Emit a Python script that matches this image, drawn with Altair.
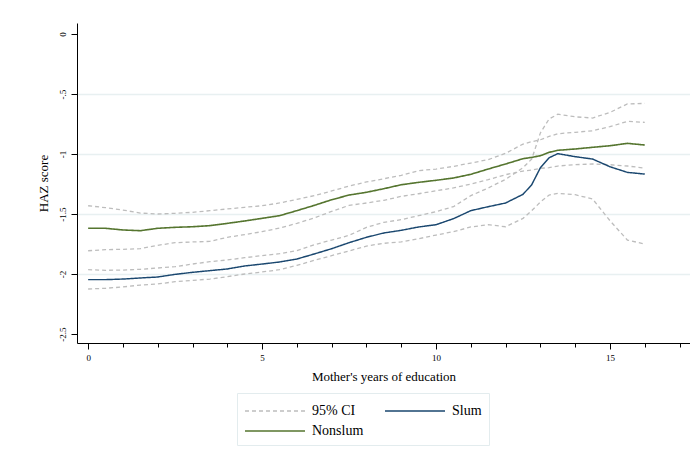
import altair as alt
import pandas as pd

# ---- data ----
years = [0, 0.5, 1, 1.5, 2, 2.5, 3, 3.5, 4, 4.5, 5, 5.5, 6, 6.5, 7, 7.5, 8, 8.5,
         9, 9.5, 10, 10.5, 11, 11.5, 12, 12.5, 12.75, 13, 13.25, 13.5, 14, 14.5,
         15, 15.5, 16]

nonslum = [-1.619, -1.619, -1.633, -1.639, -1.619, -1.611, -1.606, -1.597, -1.578,
           -1.558, -1.536, -1.514, -1.472, -1.428, -1.381, -1.342, -1.319, -1.289,
           -1.256, -1.236, -1.219, -1.200, -1.169, -1.125, -1.083, -1.039, -1.028,
           -1.014, -0.986, -0.969, -0.958, -0.944, -0.931, -0.911, -0.925]
nonslum_hi = [-1.431, -1.447, -1.467, -1.492, -1.500, -1.494, -1.486, -1.472, -1.458,
              -1.444, -1.431, -1.408, -1.378, -1.347, -1.308, -1.267, -1.233, -1.206,
              -1.178, -1.139, -1.125, -1.103, -1.075, -1.047, -0.994, -0.917, -0.897,
              -0.881, -0.853, -0.831, -0.819, -0.806, -0.772, -0.728, -0.736]
nonslum_lo = [-1.806, -1.797, -1.794, -1.789, -1.761, -1.739, -1.733, -1.728, -1.694,
              -1.672, -1.647, -1.617, -1.578, -1.533, -1.478, -1.428, -1.408, -1.386,
              -1.353, -1.331, -1.306, -1.283, -1.250, -1.214, -1.172, -1.142, -1.133,
              -1.119, -1.114, -1.100, -1.089, -1.083, -1.089, -1.100, -1.117]

slum = [-2.047, -2.047, -2.042, -2.033, -2.025, -2.003, -1.986, -1.972, -1.958,
        -1.933, -1.917, -1.900, -1.875, -1.833, -1.789, -1.739, -1.694, -1.658,
        -1.636, -1.608, -1.589, -1.539, -1.472, -1.439, -1.408, -1.336, -1.256,
        -1.114, -1.031, -0.997, -1.022, -1.042, -1.106, -1.153, -1.167]
slum_hi = [-1.964, -1.969, -1.967, -1.961, -1.950, -1.939, -1.917, -1.897, -1.883,
           -1.864, -1.847, -1.831, -1.806, -1.756, -1.717, -1.678, -1.611, -1.569,
           -1.547, -1.514, -1.480, -1.439, -1.347, -1.283, -1.211, -1.114, -1.042,
           -0.824, -0.708, -0.668, -0.690, -0.700, -0.653, -0.583, -0.578]
slum_lo = [-2.125, -2.119, -2.108, -2.092, -2.083, -2.064, -2.053, -2.042, -2.022,
           -2.000, -1.983, -1.964, -1.928, -1.886, -1.847, -1.808, -1.767, -1.744,
           -1.733, -1.706, -1.675, -1.647, -1.608, -1.589, -1.606, -1.536, -1.472,
           -1.400, -1.342, -1.328, -1.339, -1.375, -1.556, -1.717, -1.750]

legend_labels = ["95% CI", "Slum", "Nonslum"]
y_ticks = [0, -0.5, -1, -1.5, -2, -2.5]
x_ticks = list(range(0, 18))

# ---- long table ----
series = [
    ("slum_hi", "95% CI", slum_hi),
    ("slum_lo", "95% CI", slum_lo),
    ("nonslum_hi", "95% CI", nonslum_hi),
    ("nonslum_lo", "95% CI", nonslum_lo),
    ("slum", "Slum", slum),
    ("nonslum", "Nonslum", nonslum),
]
rows = []
for sid, grp, vals in series:
    for i, (xv, yv) in enumerate(zip(years, vals)):
        rows.append({"id": sid, "group": grp, "x": xv, "y": yv, "i": i})
df = pd.DataFrame(rows)

serif = "Liberation Serif"

color_scale = alt.Scale(domain=legend_labels, range=["#bdbdbd", "#1a476f", "#55752f"])
dash_scale = alt.Scale(domain=legend_labels, range=[[4, 3], [1, 0], [1, 0]])
width_scale = alt.Scale(domain=legend_labels, range=[1.3, 1.6, 1.6])

legend = alt.Legend(
    title=None, orient="none", legendX=160, legendY=370, columns=2,
    direction="horizontal", symbolType="M-1,0L5,0", symbolSize=400,
    symbolStrokeWidth=1.5, labelFont=serif, labelFontSize=14, labelColor="black",
    labelOffset=46, columnPadding=18, rowPadding=2, padding=7,
    strokeColor="#e3ecee", fillColor="white", symbolOpacity=1,
)

chart = alt.Chart(df).mark_line().encode(
    x=alt.X("x:Q", scale=alt.Scale(domain=[-0.32, 17.3], nice=False, zero=False),
            axis=alt.Axis(
                values=x_ticks, title="Mother's years of education",
                labelExpr="datum.value % 5 === 0 ? datum.label : ''",
                tickSize={"condition": {"test": "datum.value % 5 === 0", "value": 6}, "value": 4},
                labelFontSize=9, labelPadding=4, titleFontSize=13, titlePadding=8,
                grid=False)),
    y=alt.Y("y:Q", scale=alt.Scale(domain=[-2.575, 0.092], nice=False, zero=False),
            axis=alt.Axis(
                values=y_ticks, title="HAZ score", labelAngle=270,
                labelExpr="datum.value == 0 ? '0' : replace(toString(datum.value), '0.', '.')",
                labelFontSize=9, labelPadding=4, tickSize=6, titleFontSize=13,
                titlePadding=8, grid=True, gridColor="#e8f0f1", gridWidth=1.5,
                gridOpacity={"condition": {"test": "datum.value === 0 || datum.value === -2.5", "value": 0}, "value": 1})),
    color=alt.Color("group:N", scale=color_scale, legend=legend),
    strokeDash=alt.StrokeDash("group:N", scale=dash_scale, legend=legend),
    strokeWidth=alt.StrokeWidth("group:N", scale=width_scale, legend=None),
    detail="id:N",
    order="i:Q",
).properties(
    width=613, height=320,
    background="white",
    autosize=alt.AutoSizeParams(type="none"),
    padding={"left": 69, "top": 15, "right": 0, "bottom": 110},
).configure_axis(
    labelFont=serif, titleFont=serif, titleFontWeight="normal",
    labelColor="black", titleColor="black", domainColor="black",
    tickColor="black", domainWidth=1, tickWidth=1,
).configure_view(stroke=None)

chart.save("out.html", embed_options={"renderer": "svg", "actions": False})
